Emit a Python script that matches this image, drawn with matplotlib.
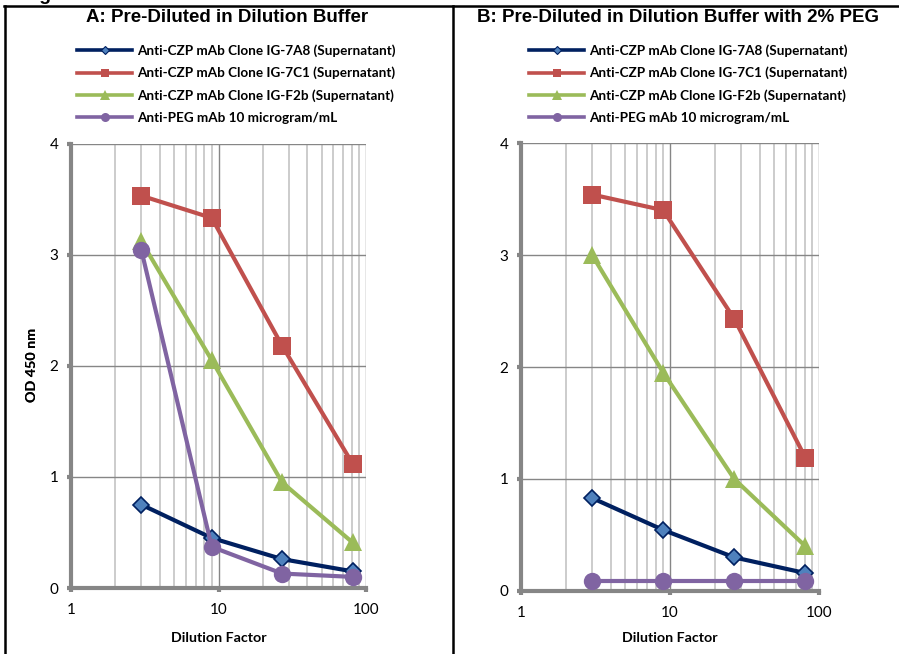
import matplotlib
matplotlib.use("Agg")
import matplotlib.pyplot as plt
from matplotlib.lines import Line2D
from matplotlib.ticker import LogLocator, NullFormatter, FixedLocator, FixedFormatter

# ---------------- data ----------------
dilution = [3, 9, 27, 81]
series_names = [
    "Anti-CZP mAb Clone IG-7A8 (Supernatant)",
    "Anti-CZP mAb Clone IG-7C1 (Supernatant)",
    "Anti-CZP mAb Clone IG-F2b (Supernatant)",
    "Anti-PEG mAb 10 microgram/mL",
]
# Panel A: pre-diluted in dilution buffer
a_7a8 = [0.75, 0.45, 0.26, 0.15]
a_7c1 = [3.53, 3.33, 2.18, 1.12]
a_f2b = [3.12, 2.05, 0.95, 0.41]
a_peg = [3.04, 0.37, 0.13, 0.10]
# Panel B: pre-diluted in dilution buffer with 2% PEG
b_7a8 = [0.83, 0.545, 0.30, 0.16]
b_7c1 = [3.54, 3.40, 2.43, 1.19]
b_f2b = [3.00, 1.95, 1.00, 0.40]
b_peg = [0.09, 0.09, 0.09, 0.09]

titles = ["A: Pre-Diluted in Dilution Buffer",
          "B: Pre-Diluted in Dilution Buffer with 2% PEG"]
x_ticks = [1, 10, 100]
x_ticklabels = ["1", "10", "100"]
y_ticks = [0, 1, 2, 3, 4]
y_ticklabels = ["0", "1", "2", "3", "4"]
xlabel = "Dilution Factor"
ylabel = "OD 450 nm"

# ---------------- style ----------------
W, H = 899, 654
fig = plt.figure(figsize=(W / 100, H / 100), dpi=100)
SANS = ["Lato", "DejaVu Sans"]
ARIAL = ["Liberation Sans", "DejaVu Sans"]

styles = [
    dict(color="#002060", marker="D", ms=8.2, mfc="#4f81bd", mec="#002060", mew=1.2, lms=3.8),
    dict(color="#c0504d", marker="s", ms=13.5, mfc="#c0504d", mec="#c0504d", mew=0, lms=6.0),
    dict(color="#9bbb59", marker="^", ms=12.5, mfc="#9bbb59", mec="#9bbb59", mew=0, lms=6.5),
    dict(color="#8064a2", marker="o", ms=12.5, mfc="#8064a2", mec="#8064a2", mew=0, lms=6.5),
]

def px(x, y):
    return x / W, 1 - y / H

panels = [
    dict(data=[a_7a8, a_7c1, a_f2b, a_peg], rect=(71, 143.5, 366, 588),
         title_x=227, leg_x=77),
    dict(data=[b_7a8, b_7c1, b_f2b, b_peg], rect=(521, 143, 819, 591),
         title_x=678, leg_x=529),
]

for i, p in enumerate(panels):
    x0, y0, x1, y1 = p["rect"]
    ax = fig.add_axes([x0 / W, 1 - y1 / H, (x1 - x0) / W, (y1 - y0) / H])
    ax.set_xscale("log")
    ax.set_xlim(1, 100)
    ax.set_ylim(0, 4)

    for vals, st in zip(p["data"], styles):
        ax.plot(dilution, vals, color=st["color"], lw=3.0, marker=st["marker"],
                ms=st["ms"], mfc=st["mfc"], mec=st["mec"], mew=st["mew"],
                clip_on=False, zorder=3)

    # grid
    ax.xaxis.set_major_locator(FixedLocator(x_ticks))
    ax.xaxis.set_major_formatter(FixedFormatter(x_ticklabels))
    ax.xaxis.set_minor_locator(LogLocator(base=10, subs=range(2, 10)))
    ax.xaxis.set_minor_formatter(NullFormatter())
    ax.yaxis.set_major_locator(FixedLocator(y_ticks))
    ax.yaxis.set_major_formatter(FixedFormatter(y_ticklabels))
    ax.grid(True, which="major", axis="both", color="#868686", lw=1.0, zorder=0)
    ax.grid(True, which="minor", axis="x", color="#bfbfbf", lw=1.1, zorder=0)
    ax.set_axisbelow(True)

    for s in ["top", "right"]:
        ax.spines[s].set_visible(False)
    for s in ["left", "bottom"]:
        ax.spines[s].set_color("#868686")
        ax.spines[s].set_linewidth(3.0)
    ax.tick_params(axis="both", which="major", direction="out", length=3,
                   width=3.0, color="#868686", labelsize=11)
    ax.tick_params(axis="x", which="minor", length=0)
    ax.tick_params(axis="x", which="major", pad=8)
    ax.tick_params(axis="y", which="major", pad=6)
    for lab in ax.get_xticklabels() + ax.get_yticklabels():
        lab.set_family(SANS)
        lab.set_color("#000000")

    ax.set_xlabel(xlabel, family=SANS, fontweight="bold", fontsize=10.3, va="center")
    ax.set_ylabel(ylabel, family=SANS, fontweight="bold", fontsize=10.3, va="center")
    ax.xaxis.set_label_coords(0.5, (y1 - 637.5) / (y1 - y0))
    ax.yaxis.set_label_coords((32 - x0) / (x1 - x0), (y1 - 365) / (y1 - y0))

    fig.text(*px(p["title_x"], 18), titles[i], family=ARIAL, fontweight="bold",
             fontsize=13.5, ha="center", va="center")

    handles = [Line2D([], [], color=st["color"], lw=2.6, marker=st["marker"],
                      ms=st["lms"], mfc=st["mfc"], mec=st["mec"],
                      mew=min(st["mew"], 0.8))
               for st in styles]
    leg = fig.legend(handles, series_names, loc="upper left",
                     bbox_to_anchor=px(p["leg_x"], 44), frameon=False,
                     borderpad=0, borderaxespad=0, handlelength=4.1,
                     handletextpad=0.38, labelspacing=0.74,
                     prop=dict(family=SANS, weight="bold", size=9.7))

# table borders
fig.add_artist(Line2D([4 / W, 1], [1 - 6 / H, 1 - 6 / H], color="black", lw=1.8,
                      transform=fig.transFigure))
fig.add_artist(Line2D([4.7 / W, 4.7 / W], [0, 1 - 6 / H], color="black", lw=1.8,
                      transform=fig.transFigure))
fig.add_artist(Line2D([453 / W, 453 / W], [0, 1 - 6 / H], color="black", lw=1.8,
                      transform=fig.transFigure))

# cut-off caption at the very top (only its descenders show, as in the source)
fig.text(23 / W, 1 + 0.5 / H, "Figure", family=ARIAL, fontweight="bold",
         fontsize=14, ha="left", va="baseline")

fig.savefig("out.png", dpi=100)
